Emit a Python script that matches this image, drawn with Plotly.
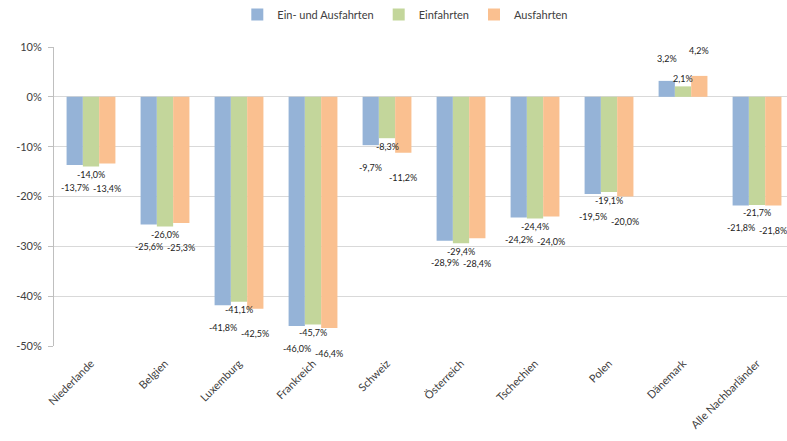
import plotly.graph_objects as go

categories = ["Niederlande", "Belgien", "Luxemburg", "Frankreich", "Schweiz",
              "Österreich", "Tschechien", "Polen", "Dänemark", "Alle Nachbarländer"]
ein_aus = [-13.7, -25.6, -41.8, -46.0, -9.7, -28.9, -24.2, -19.5, 3.2, -21.8]
ein = [-14.0, -26.0, -41.1, -45.7, -8.3, -29.4, -24.4, -19.1, 2.1, -21.7]
aus = [-13.4, -25.3, -42.5, -46.4, -11.2, -28.4, -24.0, -20.0, 4.2, -21.8]
y_tickvals = [10, 0, -10, -20, -30, -40, -50]
y_ticktext = ["10%", "0%", "-10%", "-20%", "-30%", "-40%", "-50%"]

series = [
    ("Ein- und Ausfahrten", ein_aus, "#95B3D7", -16.3, 22),
    ("Einfahrten", ein, "#C3D69B", 0, 8),
    ("Ausfahrten", aus, "#FAC090", 16.3, 25),
]

FONT = "Lato"
fig = go.Figure()
annotations = []
for name, vals, col, dx, dy in series:
    fig.add_trace(go.Bar(name=name, x=categories, y=vals, marker_color=col,
                         marker_line_width=0))
    for c, v in zip(categories, vals):
        annotations.append(dict(
            x=c, y=v, xref="x", yref="y", xshift=dx,
            yshift=(dy if v >= 0 else -dy),
            text=f"{v:.1f}%".replace(".", ","), showarrow=False,
            font=dict(family=FONT, size=9, color="#222222"),
            xanchor="center", yanchor="middle"))

fig.update_layout(
    width=787, height=441,
    barmode="group", bargap=0.34, bargroupgap=0.0,
    plot_bgcolor="white", paper_bgcolor="white",
    margin=dict(l=54, r=0, t=47, b=95),
    font=dict(family=FONT, size=11, color="#404040"),
    showlegend=True,
    legend=dict(orientation="h", x=0.515, xanchor="center", xref="container",
                y=1.0, yref="container", yanchor="top",
                font=dict(family=FONT, size=11, color="#404040"),
                itemwidth=30, tracegroupgap=0),
    annotations=annotations,
)
fig.update_xaxes(range=[-0.5, 9.405], tickangle=-45, showgrid=False,
                 showline=False, ticks="", ticklabelstandoff=8,
                 tickfont=dict(size=11, color="#404040"))
fig.update_yaxes(range=[-50, 10], tickvals=y_tickvals, ticktext=y_ticktext,
                 showgrid=True, gridcolor="#D9D9D9", gridwidth=1,
                 zeroline=False, showline=True, linecolor="#BFBFBF",
                 ticks="outside", ticklen=5, tickcolor="#BFBFBF",
                 ticklabelstandoff=4,
                 tickfont=dict(size=11, color="#404040"))
fig.write_html("out.html")
